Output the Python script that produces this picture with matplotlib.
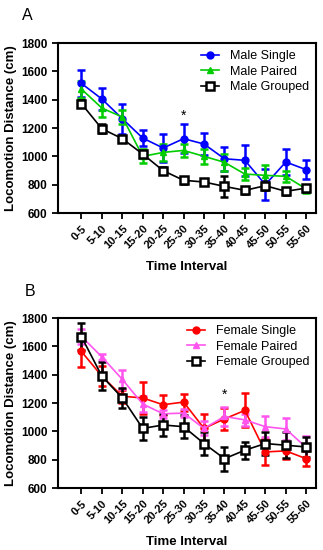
import matplotlib.pyplot as plt

plt.rcParams['font.family'] = ['Liberation Sans', 'DejaVu Sans']

intervals = ['0-5', '5-10', '10-15', '15-20', '20-25', '25-30',
             '30-35', '35-40', '40-45', '45-50', '50-55', '55-60']

# panel A - males
male_single = [1515, 1405, 1266, 1129, 1059, 1125, 1087, 983, 972, 800, 960, 906]
male_single_err = [95, 75, 105, 55, 100, 100, 80, 85, 108, 110, 95, 65]
male_paired = [1475, 1341, 1278, 1000, 1028, 1042, 1000, 958, 875, 866, 859, 770]
male_paired_err = [60, 60, 50, 50, 60, 45, 55, 60, 40, 75, 40, 30]
male_grouped = [1372, 1195, 1125, 1016, 899, 831, 819, 788, 760, 793, 753, 776]
male_grouped_err = [25, 30, 20, 25, 25, 25, 20, 72, 25, 30, 25, 25]

# panel B - females
female_single = [1564, 1390, 1248, 1236, 1188, 1207, 1021, 1088, 1148, 855, 862, 807]
female_single_err = [110, 70, 45, 115, 70, 60, 105, 80, 120, 90, 60, 55]
female_paired = [1670, 1526, 1367, 1193, 1124, 1129, 1021, 1105, 1081, 1033, 1017, 886]
female_paired_err = [50, 20, 65, 55, 30, 30, 50, 70, 40, 75, 75, 80]
female_grouped = [1669, 1390, 1236, 1021, 1045, 1033, 914, 807, 867, 914, 902, 890]
female_grouped_err = [95, 100, 70, 80, 80, 80, 80, 85, 60, 80, 90, 70]

star_a = (5, 1290)
star_b = (7, 1255)

fig = plt.figure(figsize=(3.23, 5.5), dpi=100)
ax_a = fig.add_axes([0.18, 0.6127, 0.799, 0.309])
ax_b = fig.add_axes([0.18, 0.1127, 0.799, 0.309])

x = list(range(len(intervals)))


def draw_panel(ax, series, star):
    for y, err, color, marker, label in series:
        if marker == 's':
            style = dict(marker='s', markersize=6, markerfacecolor='white',
                         markeredgecolor=color, markeredgewidth=1.8)
        else:
            style = dict(marker=marker, markersize=5)
        ax.errorbar(x, y, yerr=err, color=color, linewidth=1.2, elinewidth=1.8,
                    capsize=3, capthick=1.8, **style)
        # legend entry without error bars
        ax.plot([], [], color=color, linewidth=1.2, label=label, **style)
    ax.text(star[0], star[1], '*', ha='center', va='center', fontsize=10)
    ax.set_ylim(600, 1800)
    ax.set_yticks([600, 800, 1000, 1200, 1400, 1600, 1800])
    ax.set_xlim(-1.14, 11.49)
    ax.set_xticks(x)
    ax.set_xticklabels(intervals, rotation=45, ha='right', rotation_mode='anchor',
                       fontsize=8, fontweight='bold')
    for lab in ax.get_yticklabels():
        lab.set_fontweight('bold')
        lab.set_fontsize(8.5)
    for sp in ax.spines.values():
        sp.set_linewidth(1.5)
    ax.tick_params(width=1.3, length=4)
    ax.set_xlabel('Time Interval', fontsize=9.5, fontweight='bold', labelpad=7)
    ax.set_ylabel('Locomotion Distance (cm)', fontsize=9.5, fontweight='bold', labelpad=3)
    ax.legend(loc='upper right', frameon=False, fontsize=9, handlelength=1.4,
              borderaxespad=0.15, labelspacing=0.3, handletextpad=0.9)


draw_panel(ax_a, [
    (male_single, male_single_err, '#0000FF', 'o', 'Male Single'),
    (male_paired, male_paired_err, '#00CC00', '^', 'Male Paired'),
    (male_grouped, male_grouped_err, 'black', 's', 'Male Grouped'),
], star_a)

draw_panel(ax_b, [
    (female_single, female_single_err, '#FF0000', 'o', 'Female Single'),
    (female_paired, female_paired_err, '#FF55EE', '^', 'Female Paired'),
    (female_grouped, female_grouped_err, 'black', 's', 'Female Grouped'),
], star_b)

fig.text(22 / 323, 1 - 15 / 550, 'A', fontsize=11.5, va='center', ha='left')
fig.text(25 / 323, 1 - 292 / 550, 'B', fontsize=11.5, va='center', ha='left')

fig.savefig('out.png', dpi=100)
